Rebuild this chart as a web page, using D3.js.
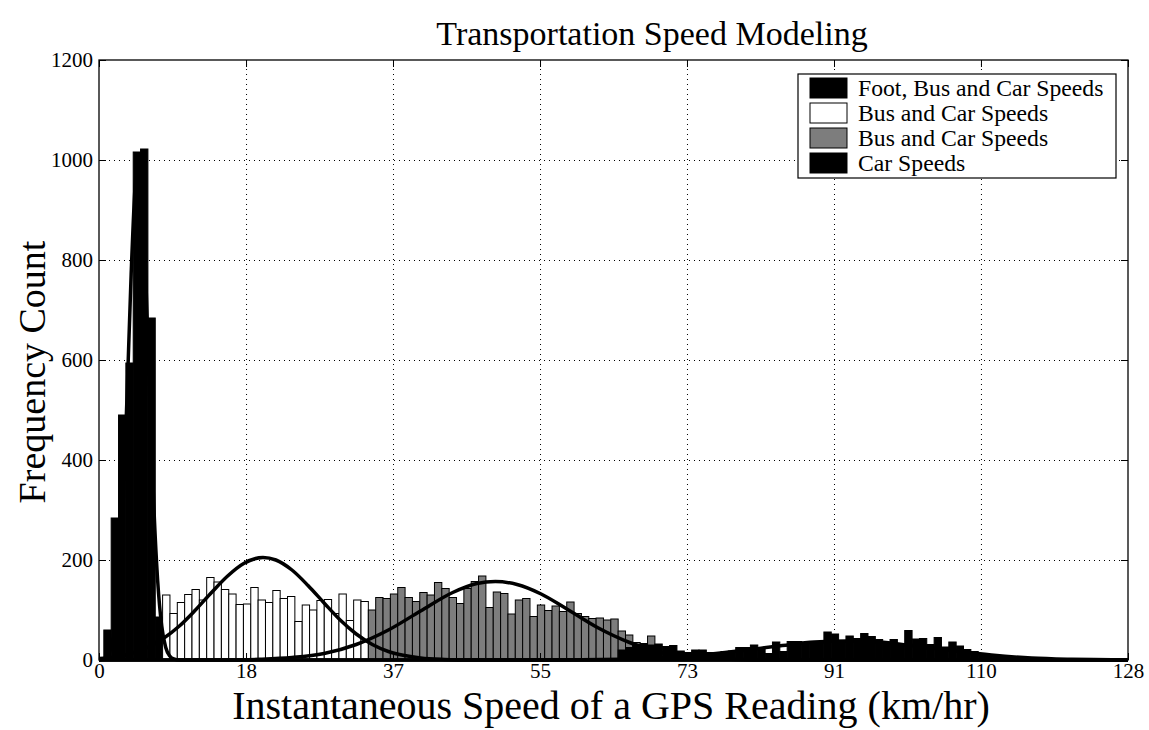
<!DOCTYPE html>
<meta charset="utf-8">
<script src="https://d3js.org/d3.v7.min.js"></script>
<style>
  body { margin: 0; background: #fff; }
  text { font-family: "Liberation Serif", "Times New Roman", serif; fill: #000; }
</style>
<div id="chart"></div>
<script>

// histogram bins (km/hr): all series share the same bins
var binStart = 0.6,
    binWidth = 0.914;

// counts per bin; each series begins at its own bin index
var footFirst = 0;
var footCounts = [60, 284, 490, 594, 1016, 1022, 684, 86];

var busFirst = 8;
var busCounts = [130, 93, 115, 131, 141, 120, 165, 156, 141, 132, 111, 112, 145, 120,
                 115, 139, 123, 127, 77, 110, 100, 119, 121, 93, 132, 79, 120, 117];

var busCarFirst = 36;
var busCarCounts = [100, 125, 123, 132, 145, 125, 117, 135, 130, 155, 143, 125, 113, 143,
                    157, 168, 105, 136, 133, 92, 120, 123, 87, 110, 99, 108, 97, 116,
                    93, 87, 83, 84, 80, 82, 58, 50, 35, 30, 48];

var carFirst = 70;
var carCounts = [20, 25, 30, 33, 30, 32, 27, 29, 18, 15, 20, 20, 15, 15, 17, 18, 25, 25,
                 30, 24, 13, 36, 17, 37, 37, 35, 35, 36, 56, 52, 36, 48, 43, 53, 47, 41,
                 35, 41, 33, 59, 42, 43, 31, 45, 26, 36, 28, 21, 17, 13, 10, 8, 7, 6, 5,
                 5, 4, 4, 4, 3, 3, 3, 3, 2, 2, 2, 1, 1, 1];

// fitted curves, [speed, count]
var footFit = [[0, 0], [0.5, 2], [1, 8], [1.5, 25], [2, 68], [2.5, 158], [3, 315], [3.5, 534],
               [4, 772], [4.5, 950], [4.9, 1000], [5.3, 950], [5.8, 772], [6.3, 534], [6.8, 315],
               [7.3, 158], [7.8, 68], [8.3, 25], [8.8, 8], [9.3, 2], [10, 0], [128, 0]];
var busFit = [[0, 3], [2, 6], [4, 13], [6, 25], [8, 43], [10, 68], [12, 100], [14, 135],
              [16, 168], [18, 193], [20.4, 205], [22, 200], [24, 180], [26, 149], [28, 114],
              [30, 80], [32, 52], [34, 31], [36, 17], [38, 9], [40, 4], [43, 1], [46, 0], [128, 0]];
var busCarFit = [[0, 0], [16, 0], [20, 1.5], [24, 5], [28, 13], [32, 31], [36, 60], [40, 98],
                 [44, 135], [47, 153], [49.3, 157], [52, 151], [55, 132], [58, 104], [62, 65],
                 [66, 35], [70, 15], [74, 6], [78, 2], [82, 0], [128, 0]];
var carFit = [[0, 0], [55, 0], [60, 0.4], [65, 1.5], [70, 4], [75, 10], [80, 19], [85, 29],
              [89, 36], [93, 38], [97, 36], [101, 29], [106, 19], [111, 10], [116, 4],
              [121, 1.5], [126, 0.4], [128, 0]];

var seriesNames = ["Foot, Bus and Car Speeds", "Bus and Car Speeds", "Bus and Car Speeds", "Car Speeds"];
var xTickValues = [0, 18.29, 36.57, 54.86, 73.14, 91.43, 109.71, 128];
var xTickLabels = ["0", "18", "37", "55", "73", "91", "110", "128"];
var yTickValues = [0, 200, 400, 600, 800, 1000, 1200];

var fills = ["#000", "#fff", "#7d7d7d", "#000"];

var margin = {top: 60, right: 21, bottom: 70, left: 99},
    width = 1149 - margin.left - margin.right,
    height = 730 - margin.top - margin.bottom;

var svgRoot = d3.select("#chart")
  .append("svg")
    .attr("width", 1149)
    .attr("height", 730);

var svg = svgRoot.append("g")
    .attr("transform", "translate(" + margin.left + "," + margin.top + ")");

var x = d3.scaleLinear().domain([0, 128]).range([0, width]);
var y = d3.scaleLinear().domain([0, 1200]).range([height, 0]);

// grid
svg.append("g")
    .attr("class", "grid")
    .attr("transform", "translate(0," + height + ")")
    .call(d3.axisBottom(x).tickValues(xTickValues.slice(1, -1)).tickSize(-height).tickFormat(""));
svg.append("g")
    .attr("class", "grid")
    .call(d3.axisLeft(y).tickValues(yTickValues.slice(1, -1)).tickSize(-width).tickFormat(""));
svg.selectAll(".grid .domain").remove();
svg.selectAll(".grid text").remove();
svg.selectAll(".grid line")
    .attr("stroke", "#000")
    .attr("stroke-width", 1)
    .attr("stroke-dasharray", "1,4");

// bars
function bins(first, counts) {
  return counts.map(function(c, i) {
    return {x0: binStart + (first + i) * binWidth, count: c};
  });
}
var series = [bins(footFirst, footCounts), bins(busFirst, busCounts),
              bins(busCarFirst, busCarCounts), bins(carFirst, carCounts)];

series.forEach(function(data, s) {
  svg.append("g")
    .selectAll("rect")
    .data(data)
    .enter()
    .append("rect")
      .attr("x", function(d) { return x(d.x0); })
      .attr("y", function(d) { return y(d.count); })
      .attr("width", function(d) { return x(d.x0 + binWidth) - x(d.x0); })
      .attr("height", function(d) { return height - y(d.count); })
      .attr("fill", fills[s])
      .attr("stroke", "#000")
      .attr("stroke-width", 1);
});

// fitted curves
var line = d3.line()
    .x(function(d) { return x(d[0]); })
    .y(function(d) { return y(d[1]); })
    .curve(d3.curveMonotoneX);

[footFit, busFit, busCarFit, carFit].forEach(function(fit) {
  svg.append("path")
    .attr("d", line(fit))
    .attr("fill", "none")
    .attr("stroke", "#000")
    .attr("stroke-width", 3.5)
    .attr("stroke-linejoin", "round");
});

// axes, ticks pointing inward on all four sides
function styleAxis(g) {
  g.select(".domain").remove();
  g.selectAll("line").attr("stroke", "#000").attr("stroke-width", 1);
  g.selectAll("text").style("font-size", "21px").style("font-family", '"Liberation Serif", serif');
}
function noLabels(g) {
  g.selectAll("text").remove();
}
svg.append("g")
    .attr("transform", "translate(0," + height + ")")
    .call(d3.axisBottom(x).tickValues(xTickValues)
      .tickFormat(function(d, i) { return xTickLabels[i]; })
      .tickSize(-7).tickPadding(3))
    .call(styleAxis);
svg.append("g")
    .call(d3.axisTop(x).tickValues(xTickValues).tickSize(-7))
    .call(styleAxis)
    .call(noLabels);
svg.append("g")
    .call(d3.axisLeft(y).tickValues(yTickValues).tickFormat(d3.format("d")).tickSize(-7).tickPadding(6))
    .call(styleAxis);
svg.append("g")
    .attr("transform", "translate(" + width + ",0)")
    .call(d3.axisRight(y).tickValues(yTickValues).tickSize(-7))
    .call(styleAxis)
    .call(noLabels);

svg.append("rect")
    .attr("width", width)
    .attr("height", height)
    .attr("fill", "none")
    .attr("stroke", "#000")
    .attr("stroke-width", 1.3);

// legend
var legend = svgRoot.append("g")
    .attr("transform", "translate(798,74)");
legend.append("rect")
    .attr("width", 318)
    .attr("height", 104)
    .attr("fill", "#fff")
    .attr("stroke", "#000")
    .attr("stroke-width", 1.2);
var items = legend.selectAll("g.item")
    .data(seriesNames)
  .enter().append("g")
    .attr("class", "item")
    .attr("transform", function(d, i) { return "translate(0," + (14 + i * 25) + ")"; });
items.append("rect")
    .attr("x", 12)
    .attr("y", -10)
    .attr("width", 37)
    .attr("height", 20)
    .attr("fill", function(d, i) { return fills[i]; })
    .attr("stroke", "#000");
items.append("text")
    .attr("x", 60)
    .attr("dy", "0.33em")
    .style("font-size", "23.7px")
    .text(function(d) { return d; });

// titles
svgRoot.append("text")
    .attr("x", 652)
    .attr("y", 45)
    .attr("text-anchor", "middle")
    .style("font-size", "34px")
    .text("Transportation Speed Modeling");

svgRoot.append("text")
    .attr("x", 611)
    .attr("y", 719)
    .attr("text-anchor", "middle")
    .style("font-size", "40px")
    .text("Instantaneous Speed of a GPS Reading (km/hr)");

svgRoot.append("text")
    .attr("transform", "translate(45,372) rotate(-90)")
    .attr("text-anchor", "middle")
    .style("font-size", "38px")
    .text("Frequency Count");

</script>
